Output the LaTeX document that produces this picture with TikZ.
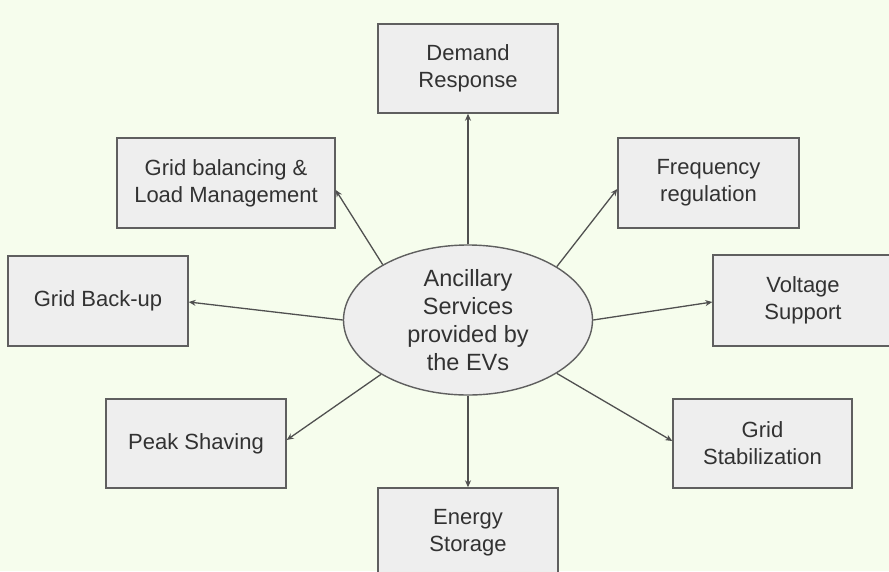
\documentclass[tikz,border=0pt]{standalone}
\usepackage{fontspec}
\setmainfont{Liberation Sans}
\usetikzlibrary{shapes.geometric,arrows.meta,calc}
\definecolor{bgc}{RGB}{246,253,237}
\definecolor{boxfill}{RGB}{238,238,238}
\definecolor{boxline}{RGB}{95,95,95}
\definecolor{txt}{RGB}{50,50,50}
\definecolor{arr}{RGB}{80,80,80}
\tikzset{
  svcbox/.style={draw=boxline, fill=boxfill, line width=1.4pt, align=center,
    text=txt, inner sep=0pt, font=\fontsize{22}{27}\selectfont},
  hub/.style={ellipse, draw=boxline, fill=boxfill, line width=1.4pt, align=center,
    text=txt, inner sep=0pt, minimum width=249pt, minimum height=150pt,
    font=\fontsize{23.5}{28}\selectfont},
  link/.style={draw=arr, line width=1.3pt, -{Stealth[length=7pt,width=6pt]}}
}
\begin{document}
\begin{tikzpicture}[x=1pt,y=-1pt]
\fill[bgc] (0,0) rectangle (889,571);
\useasboundingbox (0,0) rectangle (889,571);
\begin{scope}
\clip (0,0) rectangle (889,571);
\node[hub] (el) at (468,320) {Ancillary\\Services\\provided by\\the EVs};
\node[svcbox, minimum width=180pt, minimum height=89pt] (dr) at (468,68.5) {Demand\\Response};
\node[svcbox, minimum width=180pt, minimum height=89pt] (es) at (468,532.5) {Energy\\Storage};
\node[svcbox, minimum width=218pt, minimum height=90pt] (gb) at (226,183) {Grid balancing \&\\Load Management};
\node[svcbox, minimum width=181pt, minimum height=90pt] (fr) at (708.5,183) {Frequency\\regulation};
\node[svcbox, minimum width=180pt, minimum height=90pt] (bu) at (98,301) {Grid Back-up};
\node[svcbox, minimum width=180pt, minimum height=91pt] (vs) at (803,300.5) {Voltage\\Support};
\node[svcbox, minimum width=180pt, minimum height=89pt] (ps) at (196,443.5) {Peak Shaving};
\node[svcbox, minimum width=179pt, minimum height=89pt] (gs) at (762.5,443.5) {Grid\\Stabilization};
\draw[link] (el.90) -- (dr.south);
\draw[link] (el.270) -- (es.north);
\draw[link] (el.147.5) -- ($(gb.east)+(0,7)$);
\draw[link] (el.31) -- ($(fr.west)+(0,6)$);
\draw[link] (el.180) -- ($(bu.east)+(0,1)$);
\draw[link] (el.0) -- ($(vs.west)+(0,1.5)$);
\draw[link] (el.212.5) -- ($(ps.east)+(0,-3.5)$);
\draw[link] (el.-31) -- ($(gs.west)+(0,-2.5)$);
\end{scope}
\end{tikzpicture}
\end{document}
